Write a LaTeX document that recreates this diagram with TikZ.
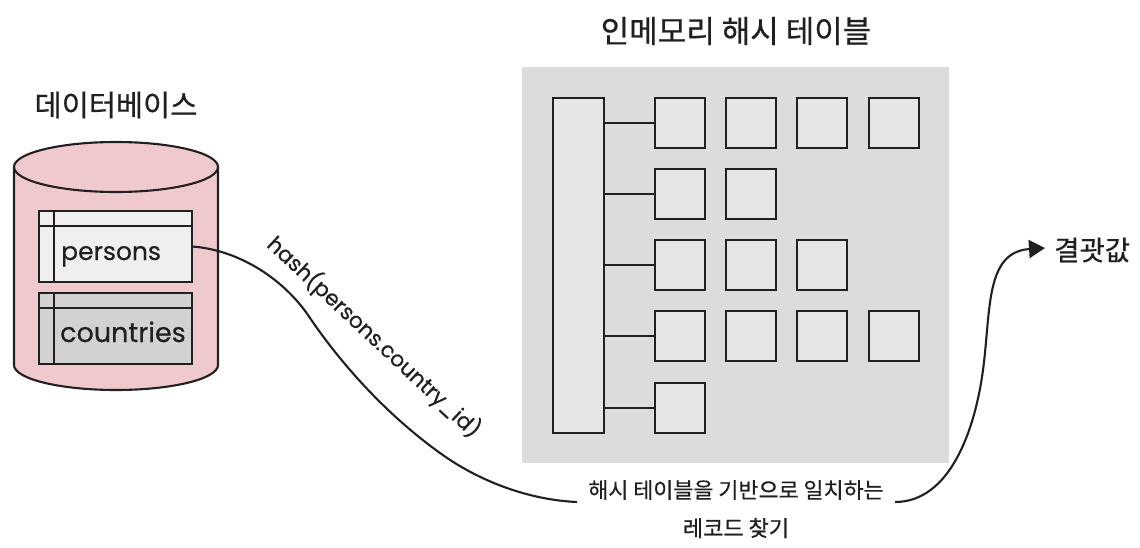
\documentclass[tikz,border=0pt]{standalone}
\usepackage{fontspec}
\setmainfont[RawFeature={embolden=0.5}]{Poppins}
\newfontfamily\kr[RawFeature={embolden=0.6}]{Noto Sans CJK KR}
\usetikzlibrary{arrows.meta}
\definecolor{ink}{HTML}{231F20}
\definecolor{dbpink}{HTML}{F0C9CD}
\definecolor{tablelight}{HTML}{EFEFEF}
\definecolor{tabledark}{HTML}{D2D2D2}
\definecolor{panelgray}{HTML}{DCDCDC}
\definecolor{cellgray}{HTML}{E5E5E5}
\tikzset{
  x=1pt,y=-1pt,
  outline/.style={draw=ink,line width=2.2pt},
  cell/.style={outline,fill=cellgray,minimum width=50pt,minimum height=50pt,inner sep=0pt,outer sep=0pt},
  bucket/.style={outline,fill=cellgray,minimum width=51pt,minimum height=335pt,inner sep=0pt,outer sep=0pt},
  dbtable/.style={outline,minimum width=153pt,minimum height=71pt,inner sep=0pt,outer sep=0pt},
  link/.style={draw=ink,line width=2pt},
  flow/.style={draw=ink,line width=2.1pt},
  krlabel/.style={text=ink,inner sep=0pt,font=\kr},
  latinlabel/.style={text=ink,inner sep=0pt},
}
\begin{document}
\begin{tikzpicture}
\useasboundingbox (0,0) rectangle (1140,548);
% titles
\node[krlabel,font=\kr\fontsize{31}{36}\selectfont] (titleR) at (736,31) {인메모리 해시 테이블};
\node[krlabel,font=\kr\fontsize{29.5}{34}\selectfont] (titleL) at (116,105) {데이터베이스};
% database cylinder
\path[fill=dbpink,draw=ink,line width=2.1pt] (14,167) -- (14,365) arc[start angle=180,end angle=360,x radius=102,y radius=-25] -- (218,167) arc[start angle=0,end angle=-180,x radius=102,y radius=25] -- cycle;
\draw[draw=ink,line width=2.1pt] (14,167) arc[start angle=180,end angle=360,x radius=102,y radius=-25];
% tables
\node[dbtable,fill=tablelight] (persons) at (115.5,246.5) {};
\draw[link] (39,226) -- (192,226) (54,211) -- (54,282);
\node[latinlabel,font=\fontsize{25}{30}\selectfont,anchor=base west] (personsT) at (61,260) {persons};
\node[dbtable,fill=tabledark] (countries) at (115.5,328.5) {};
\draw[link] (39,308) -- (192,308) (54,293) -- (54,364);
\node[latinlabel,font=\fontsize{27}{30}\selectfont,anchor=base west] (countriesT) at (60,342) {countries};
% hash table panel
\fill[panelgray] (522,67) rectangle (949,463);
\node[bucket] (bucket) at (578.5,265.5) {};
\foreach \n/\x/\y in {a1/680/123,a2/751/123,a3/822/123,a4/894/123,
  b1/680/194,b2/751/194,
  c1/680/265,c2/751/265,c3/822/265,
  d1/680/336,d2/751/336,d3/822/336,d4/894/336,
  e1/680/408}
  \node[cell] (\n) at (\x,\y) {};
\foreach \n in {a1,b1,c1,d1,e1}
  \draw[link] (bucket.east |- \n.west) -- (\n.west);
% hash label
\node[latinlabel,font=\fontsize{21.6}{26}\selectfont,rotate=-43] (hashT) at (374,337) {hash(persons.country\_id)};
% bottom label
\node[krlabel,font=\kr\fontsize{21.8}{26}\selectfont] (findA) at (736,490) {해시 테이블을 기반으로 일치하는};
\node[krlabel,font=\kr\fontsize{22}{26}\selectfont] (findB) at (736,528) {레코드 찾기};
\coordinate (flowIn) at (577,502);
\coordinate (flowOut) at (895,502);
% result
\node[krlabel,font=\kr\fontsize{27.5}{32}\selectfont,anchor=west] (result) at (1054,250) {결괏값};
\coordinate (resultTip) at (1045,248);
% curves
\draw[flow] (persons.east) .. controls (240,250) and (285,280) .. (310,318)
  .. controls (335,355) and (380,410) .. (440,453)
  .. controls (480,482) and (530,500) .. (flowIn);
\draw[flow,-{Triangle[length=16pt,width=18pt]}] (flowOut) .. controls (950,502) and (975,430) .. (983,370)
  .. controls (991,310) and (985,252) .. (resultTip);
\end{tikzpicture}
\end{document}
